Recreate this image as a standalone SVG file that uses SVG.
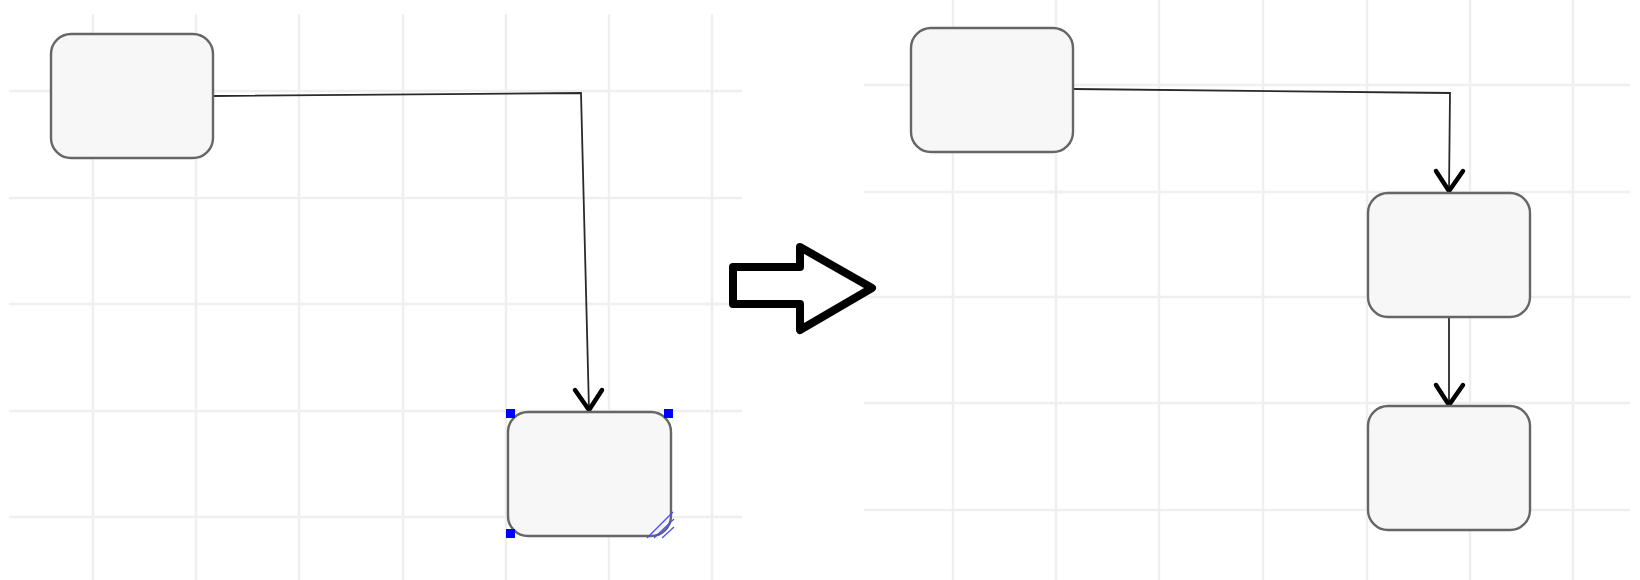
<svg xmlns="http://www.w3.org/2000/svg" width="1640" height="580" viewBox="0 0 1640 580">
<style>
.grid line{stroke:#efefef;stroke-width:2.5}
.node rect{fill:#f7f7f7;stroke:#666666;stroke-width:2.4}
.conn{fill:none;stroke:#2a2a2a;stroke-width:1.8}
.head{fill:none;stroke:#000;stroke-width:4.5;stroke-linecap:round;stroke-linejoin:round}
.handle{fill:#0000ff}
.hatch{stroke:#4a4aff;stroke-width:1.2}
</style>
<rect width="1640" height="580" fill="#ffffff"/>
<g class="grid" id="grid-left">
<line x1="93" y1="14" x2="93" y2="580"/><line x1="196" y1="14" x2="196" y2="580"/><line x1="299" y1="14" x2="299" y2="580"/><line x1="403" y1="14" x2="403" y2="580"/><line x1="506" y1="14" x2="506" y2="580"/><line x1="609" y1="14" x2="609" y2="580"/><line x1="712" y1="14" x2="712" y2="580"/>
<line x1="9" y1="91" x2="742" y2="91"/><line x1="9" y1="198" x2="742" y2="198"/><line x1="9" y1="304" x2="742" y2="304"/><line x1="9" y1="411" x2="742" y2="411"/><line x1="9" y1="517" x2="742" y2="517"/>
</g>
<g class="grid" id="grid-right">
<line x1="953" y1="0" x2="953" y2="580"/><line x1="1056" y1="0" x2="1056" y2="580"/><line x1="1159" y1="0" x2="1159" y2="580"/><line x1="1263" y1="0" x2="1263" y2="580"/><line x1="1367" y1="0" x2="1367" y2="580"/><line x1="1470" y1="0" x2="1470" y2="580"/><line x1="1573" y1="0" x2="1573" y2="580"/>
<line x1="864" y1="85" x2="1630" y2="85"/><line x1="864" y1="192" x2="1630" y2="192"/><line x1="864" y1="297" x2="1630" y2="297"/><line x1="864" y1="403" x2="1630" y2="403"/><line x1="864" y1="510" x2="1630" y2="510"/>
</g>
<g id="connectors">
<polyline class="conn" points="213,96 581,93 589,410"/>
<polyline class="head" points="575,390 589,410 602,390"/>
<polyline class="conn" points="1073,89 1450,93 1449,192"/>
<polyline class="head" points="1436,171 1449,191 1463,171"/>
<line class="conn" x1="1449" y1="317" x2="1449" y2="405"/>
<polyline class="head" points="1436,385 1449,405 1463,385"/>
</g>
<g id="node-left-1" class="node"><rect x="51" y="34" width="162" height="124" rx="20"/></g>
<g id="node-left-2" class="node"><rect x="508" y="412" width="163" height="124" rx="20"/></g>
<g id="selection">
<rect class="handle" x="506" y="409" width="9" height="9"/>
<rect class="handle" x="664" y="409" width="9" height="9"/>
<rect class="handle" x="506" y="529" width="9" height="9"/>
<line class="hatch" x1="647" y1="538" x2="673" y2="512"/>
<line class="hatch" x1="654" y1="538" x2="674" y2="519"/>
<line class="hatch" x1="662" y1="538" x2="674" y2="527"/>
</g>
<g id="transform-arrow"><polygon points="733,267 800,267 800,247 872,288 800,330 800,304 733,304" fill="none" stroke="#000" stroke-width="8" stroke-linejoin="round"/></g>
<g id="node-right-a" class="node"><rect x="911" y="28" width="162" height="124" rx="20"/></g>
<g id="node-right-b" class="node"><rect x="1368" y="193" width="162" height="124" rx="20"/></g>
<g id="node-right-c" class="node"><rect x="1368" y="406" width="162" height="124" rx="20"/></g>
</svg>
